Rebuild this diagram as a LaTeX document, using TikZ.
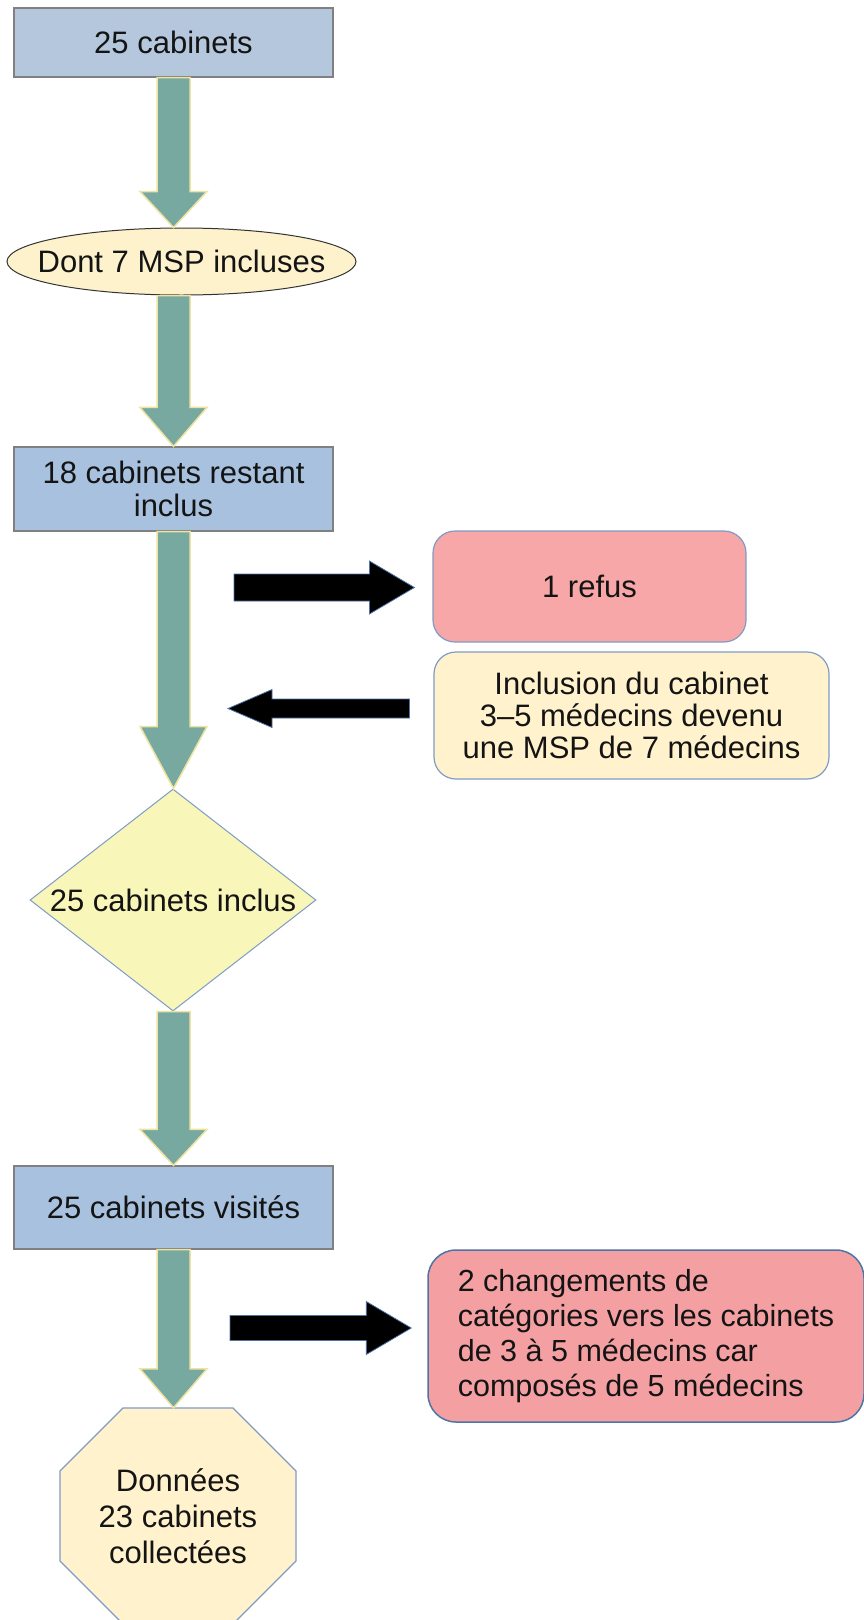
\documentclass[tikz,border=0pt]{standalone}
\usepackage{fontspec}
\setmainfont{Liberation Sans}
\usetikzlibrary{calc,shapes.geometric}
\definecolor{boxA}{HTML}{B4C7DC}
\definecolor{boxB}{HTML}{A7C1DF}
\definecolor{boxline}{HTML}{808080}
\definecolor{garrfill}{HTML}{78A9A1}
\definecolor{garrline}{HTML}{EEE3A0}
\definecolor{ellfill}{HTML}{FDF2CC}
\definecolor{refusfill}{HTML}{F8A7A8}
\definecolor{inclfill}{HTML}{FFF2CC}
\definecolor{softblue}{HTML}{7F9CC6}
\definecolor{diafill}{HTML}{F8F6B8}
\definecolor{redfill}{HTML}{F4A0A3}
\definecolor{redline}{HTML}{4D74A8}
\definecolor{txt}{HTML}{141414}
\newcommand\garr[3]{\path[garrow] let \p1=(axis |- #1), \p2=(axis |- #2) in
  (\x1-16.5pt,\y1) -- (\x1+16.5pt,\y1) -- (\x1+16.5pt,\y2+#3) -- (\x1+33.5pt,\y2+#3)
  -- (\x2,\y2) -- (\x1-33.5pt,\y2+#3) -- (\x1-16.5pt,\y2+#3) -- cycle;}
\newcommand\barr[5]{\path[barrow] let \p1=(#1), \p2=(#2) in
  (\x1,\y1+#3) -- ({\x2-(#5)},\y1+#3) -- ({\x2-(#5)},\y1+#4) -- (\x2,\y2)
  -- ({\x2-(#5)},\y1-#4) -- ({\x2-(#5)},\y1-#3) -- (\x1,\y1-#3) -- cycle;}
\begin{document}
\begin{tikzpicture}[x=1pt,y=-1pt,
  every node/.style={text=txt, font=\fontsize{31}{33}\selectfont, align=center},
  bluebox/.style={rectangle, draw=boxline, line width=1.2pt, minimum width=319pt, inner sep=0pt},
  octshape/.style={draw=softblue, line width=1.2pt, fill=inclfill, line join=miter},
  garrow/.style={fill=garrfill, draw=garrline, line width=1.5pt, line join=miter},
  barrow/.style={fill=black, draw=redline, line width=0.8pt, line join=miter}]
\clip (0,0) rectangle (864,1620);
\fill[white] (0,0) rectangle (864,1620);
\coordinate (axis) at (173.5,0);

\node[bluebox, fill=boxA, minimum height=69pt] (b1) at (173.5,42.5) {25 cabinets};
\node[ellipse, draw=black!80, line width=1pt, fill=ellfill, minimum width=349pt, minimum height=67pt, inner xsep=-25pt, inner ysep=0pt] (e1) at (181.5,261.5) {Dont 7 MSP incluses};
\node[bluebox, fill=boxB, minimum height=84pt] (b2) at (173.5,489) {18 cabinets restant\\inclus};
\node[rectangle, rounded corners=22pt, draw=softblue, line width=1.2pt, fill=refusfill, minimum width=313pt, minimum height=111pt] (refus) at (589.5,586.5) {1 refus};
\node[rectangle, rounded corners=22pt, draw=softblue, line width=1.2pt, fill=inclfill, minimum width=395pt, minimum height=127pt, font=\fontsize{31}{32}\selectfont] (incl) at (631.5,715.5) {Inclusion du cabinet\\3–5 médecins devenu\\une MSP de 7 médecins};
\node[diamond, draw=softblue, line width=1pt, fill=diafill, minimum width=286pt, minimum height=222pt, inner sep=-4pt, aspect=1.29] (dia) at (173,900) {25 cabinets inclus};
\node[bluebox, fill=boxB, minimum height=83pt] (b3) at (173.5,1207.5) {25 cabinets visités};
\node[rectangle, rounded corners=28pt, draw=redline, line width=1.5pt, fill=redfill, minimum width=436pt, minimum height=172pt, align=left, font=\fontsize{30.5}{35}\selectfont] (chg) at (646,1336) {2 changements de\\catégories vers les cabinets\\de 3 à 5 médecins car\\composés de 5 médecins};

\coordinate (octc) at (178,1516);
\draw[octshape] ($(octc)+(-55,-108)$) -- ($(octc)+(55,-108)$) -- ($(octc)+(118,-45)$)
  -- ($(octc)+(118,45)$) -- ($(octc)+(55,108)$) -- ($(octc)+(-55,108)$)
  -- ($(octc)+(-118,45)$) -- ($(octc)+(-118,-45)$) -- cycle;
\node[rectangle, minimum width=236pt, minimum height=216pt, inner sep=0pt, font=\fontsize{31}{36}\selectfont] (oct) at (octc) {Données\\23 cabinets\\collectées};

\garr{b1.south}{e1.north}{36pt}
\garr{e1.south}{b2.north}{39pt}
\garr{b2.south}{dia.north}{62pt}
\garr{dia.south}{b3.north}{36pt}
\garr{b3.south}{oct.north}{39pt}

\coordinate (ta) at (234,587.5);
\coordinate (pa) at ($(refus.west)+(-18,1)$);
\barr{ta}{pa}{13.5pt}{26.5pt}{45pt}
\coordinate (tb) at ($(incl.west)+(-24,-7)$);
\coordinate (pb) at (228,708.5);
\barr{tb}{pb}{9.5pt}{19pt}{-44pt}
\coordinate (tc) at (230,1328);
\coordinate (pc) at ($(chg.west)+(-16,-8)$);
\barr{tc}{pc}{12.5pt}{26.5pt}{45pt}
\end{tikzpicture}
\end{document}
